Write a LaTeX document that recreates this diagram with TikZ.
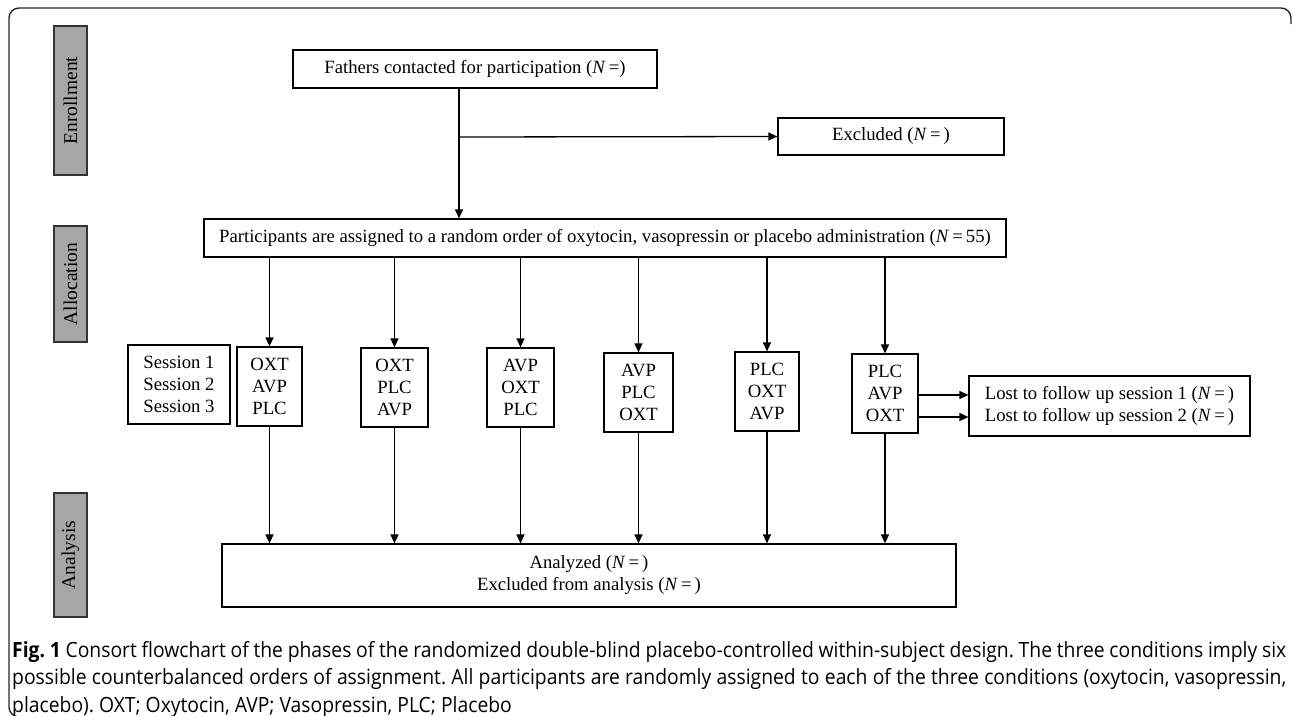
\documentclass[tikz,border=0pt]{standalone}
\usepackage{fontspec}
\setmainfont{Liberation Serif}
\newfontfamily\capfont[FakeStretch=0.92]{Open Sans}
\usetikzlibrary{arrows.meta}

\tikzset{
  box/.style={draw, line width=1.2pt, inner sep=0pt, align=center,
    font=\fontsize{18.7}{22}\selectfont},
  phase/.style={draw=black!80, fill=black!35, line width=1.2pt, rotate=90,
    inner sep=0pt, minimum height=33pt, font=\fontsize{19.5}{20}\selectfont},
  arr/.style={-{Triangle[length=9pt,width=8pt]}, line width=1.3pt},
}
\newcommand{\nEq}{(\textit{N}\,=\,)}

\begin{document}
\begin{tikzpicture}[x=1pt,y=-1pt]
\useasboundingbox (0,0) rectangle (1293,715);
  % Draw frame
  \draw[line width=1.4pt, black!85, rounded corners=10pt]
        (1291,24) -- (1291,8) -- (9,8) -- (9,717) -- (30,717);

  % Draw phases
  \node[phase, minimum width=149pt] (enrol) at (70.5,100.5) {Enrollment};
  \node[phase, minimum width=116pt] (alloc) at (70.5,284)   {Allocation};
  \node[phase, minimum width=124pt] (analy) at (70.5,555)   {Analysis};

  % Draw boxes
  \node[box, minimum width=364pt, minimum height=38pt] (fath) at (475,69)
        {Fathers contacted for participation (\textit{N}\,=)};
  \node[box, minimum width=226pt, minimum height=37pt] (excl) at (891,136.5)
        {Excluded \nEq};
  \node[box, minimum width=802pt, minimum height=38pt] (part) at (605,238)
        {Participants are assigned to a random order of oxytocin, vasopressin or placebo administration (\textit{N}\,=\,55)};
  \node[box, minimum width=102pt, minimum height=79pt] (sess) at (179,384.5)
        {Session 1\\Session 2\\Session 3};
  \node[box, minimum width=65pt, minimum height=79pt] (o1) at (269.5,386.5) {OXT\\AVP\\PLC};
  \node[box, minimum width=67pt, minimum height=79pt] (o2) at (394.5,387.5) {OXT\\PLC\\AVP};
  \node[box, minimum width=67pt, minimum height=79pt] (o3) at (520.5,387.5) {AVP\\OXT\\PLC};
  \node[box, minimum width=69pt, minimum height=79pt] (o4) at (638.5,392.5) {AVP\\PLC\\OXT};
  \node[box, minimum width=64pt, minimum height=79pt] (o5) at (767,391.5)   {PLC\\OXT\\AVP};
  \node[box, minimum width=66pt, minimum height=79pt] (o6) at (885,393.5)   {PLC\\AVP\\OXT};
  \node[box, minimum width=281pt, minimum height=60pt] (lost) at (1109.5,406)
        {Lost to follow up session 1 \nEq\\Lost to follow up session 2 \nEq};
  \node[box, minimum width=734pt, minimum height=63pt] (anal) at (589,575.5)
        {Analyzed \nEq\\Excluded from analysis \nEq};

  % Draw arrows
  \coordinate (split) at (459,137);
  \draw[arr] (fath.south -| split) -- (part.north -| split);
  \draw[arr] (split) -- (excl.west);
  \foreach \o in {o1,o2,o3,o4,o5,o6} {
    \draw[arr] (part.south -| \o.north) -- (\o.north);
    \draw[arr] (\o.south) -- (\o.south |- anal.north);
  }
  \coordinate (l1) at ([yshift=11pt]lost.west);
  \coordinate (l2) at ([yshift=-11pt]lost.west);
  \draw[arr] (o6.east |- l1) -- (l1);
  \draw[arr] (o6.east |- l2) -- (l2);

  % Caption
  \node[anchor=north west, inner sep=0pt, text width=1274pt, align=justify,
        font=\capfont\fontsize{21}{27.5}\selectfont\frenchspacing] (cap) at (12,641)
        {\textbf{Fig.~1} Consort flowchart of the phases of the randomized double-blind placebo-controlled within-subject design. The three conditions imply six\linebreak
        possible counterbalanced orders of assignment. All participants are randomly assigned to each of the three conditions (oxytocin, vasopressin,\linebreak
        placebo). OXT; Oxytocin, AVP; Vasopressin, PLC; Placebo};
\end{tikzpicture}
\end{document}
